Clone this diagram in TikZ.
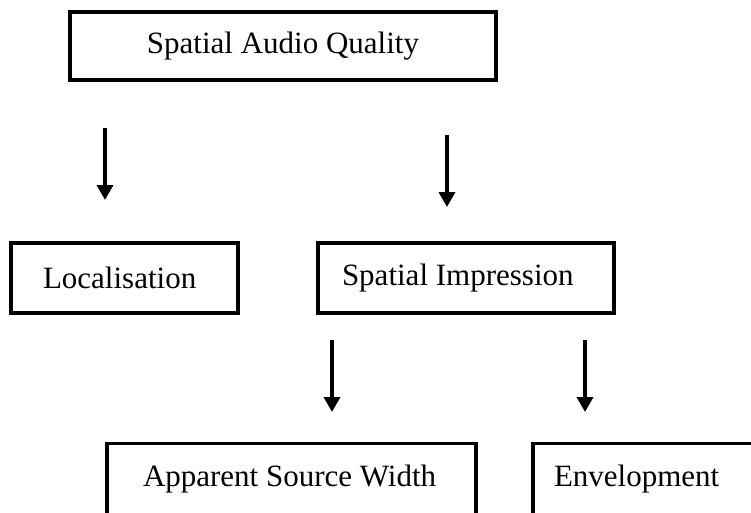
\documentclass[tikz,border=0pt]{standalone}
\usepackage{fontspec}
\setmainfont{Liberation Serif}
\usetikzlibrary{arrows.meta}

\begin{document}
\begin{tikzpicture}[
	x=1pt, y=-1pt,
	box/.style={
		rectangle,
		draw=black,
		line width=3.5pt,
		minimum height=70pt,
		align=flush left,
		inner ysep=0pt,
		font=\fontsize{31}{37}\selectfont,
	},
	arrow/.style={-{Triangle[length=15pt, width=16pt]}, line width=3.5pt},
	]
	\useasboundingbox (0,0) rectangle (751,513);
	\node[box, minimum width=426pt, minimum height=68pt, align=flush center] (quality) at (283,46) {Spatial Audio Quality};
	\node[box, inner xsep=32pt, text width=163pt] (local) at (124.5,278) {Localisation};
	\node[box, inner xsep=24pt, text width=248pt] (impress) at (466,278) {Spatial Impression};
	\node[box, inner xsep=36pt, text width=297pt, minimum height=71pt] (width) at (291.5,479) {\mbox{Apparent Source Width}};
	\node[box, inner xsep=21pt, text width=195pt, minimum height=71pt] (envel) at (651.5,479) {Envelopment};

	% free-standing arrows between the rows
	\coordinate (a1) at (105,128);  \coordinate (a1tip) at (105,200);
	\coordinate (a2) at (447,135);  \coordinate (a2tip) at (447,207);
	\coordinate (a3) at (332,340);  \coordinate (a3tip) at (332,412);
	\coordinate (a4) at (585,340);  \coordinate (a4tip) at (585,412);

	\draw[arrow] (a1) -- (a1tip);
	\draw[arrow] (a2) -- (a2tip);
	\draw[arrow] (a3) -- (a3tip);
	\draw[arrow] (a4) -- (a4tip);
\end{tikzpicture}
\end{document}
